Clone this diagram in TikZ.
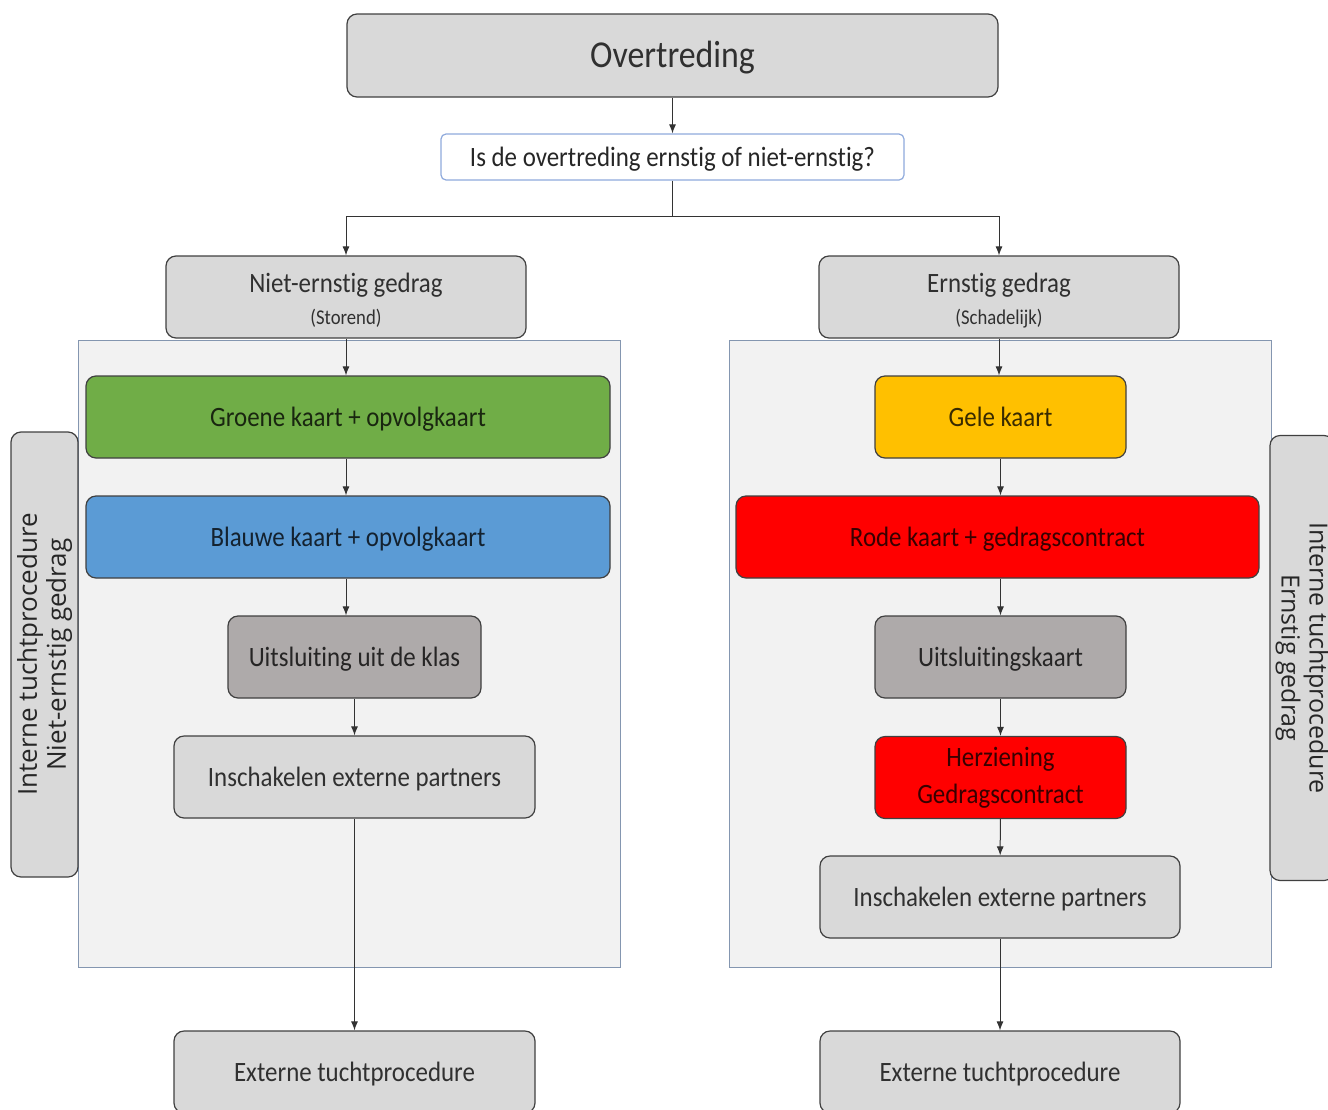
\documentclass[tikz,border=0pt]{standalone}
\usepackage{fontspec}
\setmainfont{Carlito}[FakeStretch=0.89, Ligatures=NoCommon]
\newfontfamily\sidefont{Open Sans}
\usetikzlibrary{arrows.meta}

\definecolor{boxgray}{HTML}{D9D9D9}
\definecolor{exclgray}{HTML}{AEAAAA}
\definecolor{cardgreen}{HTML}{70AD47}
\definecolor{cardblue}{HTML}{5B9BD5}
\definecolor{cardyellow}{HTML}{FFC000}
\definecolor{cardred}{HTML}{FF0000}
\definecolor{boxline}{HTML}{404040}
\definecolor{panelbg}{HTML}{F2F2F2}
\definecolor{panelline}{HTML}{8496B0}
\definecolor{askline}{HTML}{8FAADC}

\begin{document}
\begin{tikzpicture}[x=1pt,y=-1pt,
    box/.style={draw=boxline, line width=1.2pt, rounded corners=10pt, inner sep=0pt,
      minimum height=82pt, align=center, font=\fontsize{28}{34}\selectfont},
    stack/.style={box, fill=#1, text=#1!22!black},
    card/.style={stack=#1, text height=18pt, text depth=0pt},
    panel/.style={draw=panelline, line width=0.9pt, fill=panelbg, inner sep=0pt},
    side/.style={draw=boxline, line width=1.2pt, rounded corners=10pt, fill=boxgray,
      inner sep=0pt, minimum width=445pt, minimum height=67pt, align=center,
      font=\sidefont\fontsize{26}{29}\selectfont, text=black!85},
    flow/.style={-{Latex[length=9pt,width=7pt]}, line width=1pt, draw=black!80}]
  \useasboundingbox (0,0) rectangle (1328,1109);

  % panels
  \node[panel, minimum width=542pt, minimum height=627pt] (leftpanel) at (349,653.5) {};
  \node[panel, minimum width=542pt, minimum height=627pt] (rightpanel) at (1000,653.5) {};

  % top
  \node[card=boxgray, minimum width=651pt, minimum height=83pt, text height=24.5pt, font=\fontsize{38}{44}\selectfont] (offence) at (672.5,55.5) {Overtreding};
  \node[box, draw=askline, fill=white, text=black!85, text height=18pt, text depth=0pt, rounded corners=5pt, minimum width=463pt, minimum height=46pt] (ask) at (672.5,157) {Is de overtreding ernstig of niet-ernstig?};

  % branches
  \node[stack=boxgray, minimum width=360pt] (mild) at (346,297) {\rule{0pt}{26pt}Niet-ernstig gedrag\\[-2pt]{\fontsize{21}{25}\selectfont (Storend)}};
  \node[stack=boxgray, minimum width=360pt] (severe) at (999,297) {\rule{0pt}{26pt}Ernstig gedrag\\[-2pt]{\fontsize{21}{25}\selectfont (Schadelijk)}};

  % left column
  \node[card=cardgreen, minimum width=524pt] (green) at (348,417) {Groene kaart + opvolgkaart};
  \node[card=cardblue, minimum width=524pt] (blue) at (348,537) {Blauwe kaart + opvolgkaart};
  \node[card=exclgray, minimum width=253pt] (classout) at (354.5,657) {Uitsluiting uit de klas};
  \node[card=boxgray, minimum width=361pt] (partnersl) at (354.5,777) {Inschakelen externe partners};
  \node[card=boxgray, minimum width=361pt] (externl) at (354.5,1072) {Externe tuchtprocedure};

  % right column
  \node[card=cardyellow, minimum width=251pt] (yellow) at (1000.5,417) {Gele kaart};
  \node[card=cardred, minimum width=523pt] (red) at (997.5,537) {Rode kaart + gedragscontract};
  \node[card=exclgray, minimum width=251pt] (exclcard) at (1000.5,657) {Uitsluitingskaart};
  \node[stack=cardred, minimum width=251pt, font=\fontsize{28}{37}\selectfont] (review) at (1000.5,777.5) {Herziening\\Gedragscontract};
  \node[card=boxgray, minimum width=360pt] (partnersr) at (1000,897) {Inschakelen externe partners};
  \node[card=boxgray, minimum width=360pt] (externr) at (1000,1072) {Externe tuchtprocedure};

  % side labels
  \node[side, rotate=90] (sidel) at (44.5,654.5) {Interne tuchtprocedure\\Niet-ernstig gedrag};
  \node[side, rotate=-90, minimum height=64pt, font=\sidefont\fontsize{25}{28}\selectfont] (sider) at (1302,658) {Interne tuchtprocedure\\Ernstig gedrag};

  % connectors
  \draw[flow] (offence) -- (ask);
  \draw[line width=1pt, draw=black!80] (ask.south) -- ++(0,36) coordinate (split);
  \draw[flow] (split) -| (mild.north);
  \draw[flow] (split) -| (severe.north);
  \draw[flow] (mild) -- (mild.south |- green.north);
  \draw[flow] (mild.south |- green.south) -- (mild.south |- blue.north);
  \draw[flow] (mild.south |- blue.south) -- (mild.south |- classout.north);
  \draw[flow] (classout) -- (partnersl);
  \draw[flow] (partnersl) -- (externl);
  \draw[flow] (severe) -- (severe.south |- yellow.north);
  \draw[flow] (yellow) -- (yellow.south |- red.north);
  \draw[flow] (yellow.south |- red.south) -- (exclcard);
  \draw[flow] (exclcard) -- (review);
  \draw[flow] (review) -- (partnersr);
  \draw[flow] (partnersr) -- (externr);
\end{tikzpicture}
\end{document}
